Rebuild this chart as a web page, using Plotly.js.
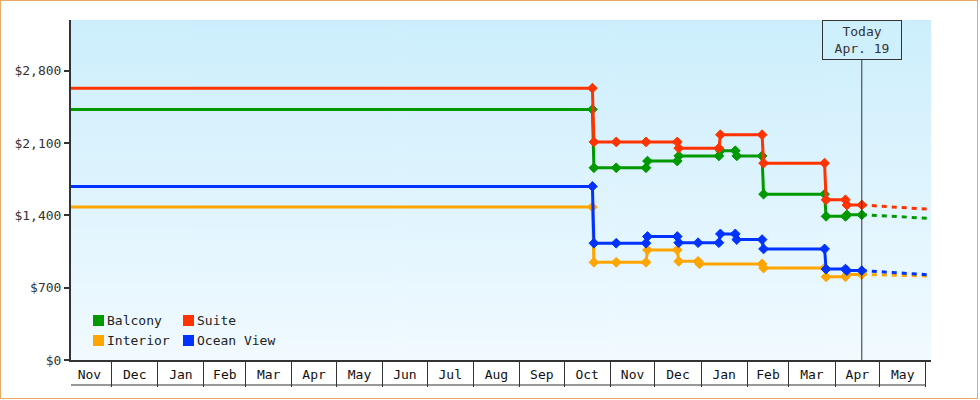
<!DOCTYPE html>
<html>
<head>
<meta charset="utf-8">
<script src="https://cdn.plot.ly/plotly-3.0.1.min.js"></script>
<style>
  html, body { margin: 0; padding: 0; background: #fff; }
  #frame { width: 978px; height: 399px; box-sizing: border-box; border: 1px solid #E9AA66; }
  #chart { width: 976px; height: 397px; }
</style>
</head>
<body>
<div id="frame"><div id="chart"></div></div>
<script>
// Cabin price history (observed) and projected trend after today
const seriesNames  = ['Balcony', 'Suite', 'Interior', 'Ocean View'];
const seriesColors = ['#009900', '#FF3300', '#FFA500', '#0033FF'];

const balconyDates  = ['2012-11-03', '2013-10-20', '2013-10-21', '2013-11-05', '2013-11-25', '2013-11-26',
                       '2013-12-16', '2013-12-17', '2014-01-13', '2014-01-14', '2014-01-24', '2014-01-25',
                       '2014-02-11', '2014-02-12', '2014-03-25', '2014-03-26', '2014-04-08', '2014-04-09',
                       '2014-04-19'];
const balconyPrices = [2425, 2425, 1860, 1860, 1860, 1925,
                       1925, 1975, 1975, 2025, 2025, 1975,
                       1975, 1605, 1605, 1390, 1390, 1405,
                       1405];

const suiteDates  = ['2012-11-03', '2013-10-20', '2013-10-21', '2013-11-05', '2013-11-25', '2013-12-16',
                     '2013-12-17', '2014-01-13', '2014-01-14', '2014-02-11', '2014-02-12', '2014-03-25',
                     '2014-03-26', '2014-04-08', '2014-04-09', '2014-04-19'];
const suitePrices = [2630, 2630, 2110, 2110, 2110, 2110,
                     2050, 2050, 2180, 2180, 1905, 1905,
                     1550, 1550, 1500, 1500];

const interiorDates  = ['2012-11-03', '2013-10-20', '2013-10-21', '2013-11-05', '2013-11-25', '2013-11-26',
                        '2013-12-16', '2013-12-17', '2013-12-30', '2013-12-31', '2014-02-11', '2014-02-12',
                        '2014-03-25', '2014-03-26', '2014-04-08', '2014-04-09', '2014-04-19'];
const interiorPrices = [1480, 1480, 945, 945, 945, 1065,
                        1065, 955, 955, 930, 930, 890,
                        890, 805, 805, 828, 828];

const oceanDates  = ['2012-11-03', '2013-10-20', '2013-10-21', '2013-11-05', '2013-11-25', '2013-11-26',
                     '2013-12-16', '2013-12-17', '2013-12-30', '2014-01-13', '2014-01-14', '2014-01-24',
                     '2014-01-25', '2014-02-11', '2014-02-12', '2014-03-25', '2014-03-26', '2014-04-08',
                     '2014-04-09', '2014-04-19'];
const oceanPrices = [1680, 1680, 1130, 1130, 1130, 1195,
                     1195, 1135, 1135, 1135, 1220, 1220,
                     1165, 1165, 1075, 1075, 880, 880,
                     865, 865];

// projected trend from today to the end of the window
const forecastDates    = ['2014-04-19', '2014-06-05'];
const balconyForecast  = [1405, 1370];
const suiteForecast    = [1500, 1457];
const interiorForecast = [828, 812];
const oceanForecast    = [865, 823];

const yTickValues = [0, 700, 1400, 2100, 2800];
const yTickLabels = ['$0', '$700', '$1,400', '$2,100', '$2,800'];
const todayDate  = '2014-04-19';
const todayLabel = 'Today<br>Apr. 19';

// layout constants
const xRange = ['2012-11-03 16:00', '2014-06-04 12:00'];
const monthGridEnd = '2014-06-01';
const yMax = 3290;
const FONT = 'DejaVu Sans Mono, Liberation Mono, monospace';
const INK = '#333333';
const plotW = 860, plotH = 340;

const history = [
  [balconyDates, balconyPrices, balconyForecast],
  [suiteDates, suitePrices, suiteForecast],
  [interiorDates, interiorPrices, interiorForecast],
  [oceanDates, oceanPrices, oceanForecast]
];

const traces = [];
history.forEach(([d, p, f], i) => {
  traces.push({
    type: 'scatter', mode: 'lines', x: forecastDates, y: f,
    name: seriesNames[i] + ' trend', showlegend: false, hoverinfo: 'skip',
    line: { color: seriesColors[i], width: 3, dash: '5px,5px' }
  });
});
history.forEach(([d, p], i) => {
  traces.push({
    type: 'scatter', mode: 'lines+markers', x: d, y: p,
    name: seriesNames[i], showlegend: false, cliponaxis: false,
    line: { color: seriesColors[i], width: 3 },
    marker: { color: seriesColors[i], symbol: 'diamond', size: 7.5,
              line: { color: seriesColors[i], width: 1 } }
  });
});

// vertical gradient for the plot area
function gradientImage() {
  const c = document.createElement('canvas');
  c.width = 4; c.height = 340;
  const g = c.getContext('2d');
  const grd = g.createLinearGradient(0, 0, 0, 340);
  grd.addColorStop(0, '#CCEEFC');
  grd.addColorStop(1, '#F1FAFF');
  g.fillStyle = grd;
  g.fillRect(0, 0, 4, 340);
  return c.toDataURL('image/png');
}

// hand-placed two-column legend
const legendCols = [22, 112];   // px from left of plot area
const legendRows = [39.5, 19.5]; // px above bottom of plot area
const shapes = [];
const annotations = [];
seriesNames.forEach((n, i) => {
  const cx = legendCols[i % 2], cy = legendRows[Math.floor(i / 2)];
  shapes.push({
    type: 'rect', xref: 'paper', yref: 'paper', layer: 'above',
    x0: cx / plotW, x1: (cx + 11) / plotW,
    y0: (cy - 5.5) / plotH, y1: (cy + 5.5) / plotH,
    fillcolor: seriesColors[i], line: { width: 0 }
  });
  annotations.push({
    xref: 'paper', yref: 'paper', x: (cx + 12) / plotW, y: cy / plotH,
    xanchor: 'left', yanchor: 'middle', showarrow: false, text: n,
    font: { family: FONT, size: 13, color: '#222' }
  });
});

// bottom rule of the month cells
shapes.push({
  type: 'line', xref: 'x', yref: 'paper', x0: xRange[0], x1: monthGridEnd,
  y0: -25 / plotH, y1: -25 / plotH, line: { color: INK, width: 1 }
});
// today marker line
shapes.push({
  type: 'line', xref: 'x', yref: 'paper', x0: todayDate, x1: todayDate,
  y0: 0, y1: 1, line: { color: INK, width: 1 }
});
annotations.push({
  xref: 'x', yref: 'paper', x: todayDate, y: 1, xanchor: 'center', yanchor: 'top',
  showarrow: false, text: todayLabel, width: 76, height: 36,
  bgcolor: '#CEEFFC', bordercolor: INK, borderwidth: 1, borderpad: 1,
  font: { family: FONT, size: 13, color: INK }
});

const layout = {
  width: 976, height: 397,
  margin: { l: 70, r: 46, t: 19, b: 38 },
  paper_bgcolor: '#ffffff',
  plot_bgcolor: 'rgba(0,0,0,0)',
  showlegend: false,
  font: { family: FONT, size: 13, color: INK },
  xaxis: {
    type: 'date', range: xRange, showgrid: false, zeroline: false,
    showline: true, linecolor: INK, linewidth: 2,
    dtick: 'M1', tick0: '2000-01-01', tickformat: '%b', ticklabelmode: 'period',
    ticks: 'outside', ticklen: 25, tickwidth: 1, tickcolor: INK,
    ticklabelstandoff: -24,
    tickfont: { family: FONT, size: 13, color: '#111' }
  },
  yaxis: {
    range: [0, yMax], showgrid: false, zeroline: false,
    showline: true, linecolor: INK, linewidth: 2,
    tickmode: 'array', tickvals: yTickValues, ticktext: yTickLabels,
    ticks: 'outside', ticklen: 5, tickwidth: 2, tickcolor: INK,
    tickfont: { family: FONT, size: 13, color: INK }
  },
  images: [{
    source: gradientImage(), xref: 'paper', yref: 'paper',
    x: 0, y: 1, sizex: 1, sizey: 1, xanchor: 'left', yanchor: 'top',
    sizing: 'stretch', layer: 'below'
  }],
  shapes: shapes,
  annotations: annotations
};

Plotly.newPlot('chart', traces, layout, { displayModeBar: false, staticPlot: true });
</script>
</body>
</html>
